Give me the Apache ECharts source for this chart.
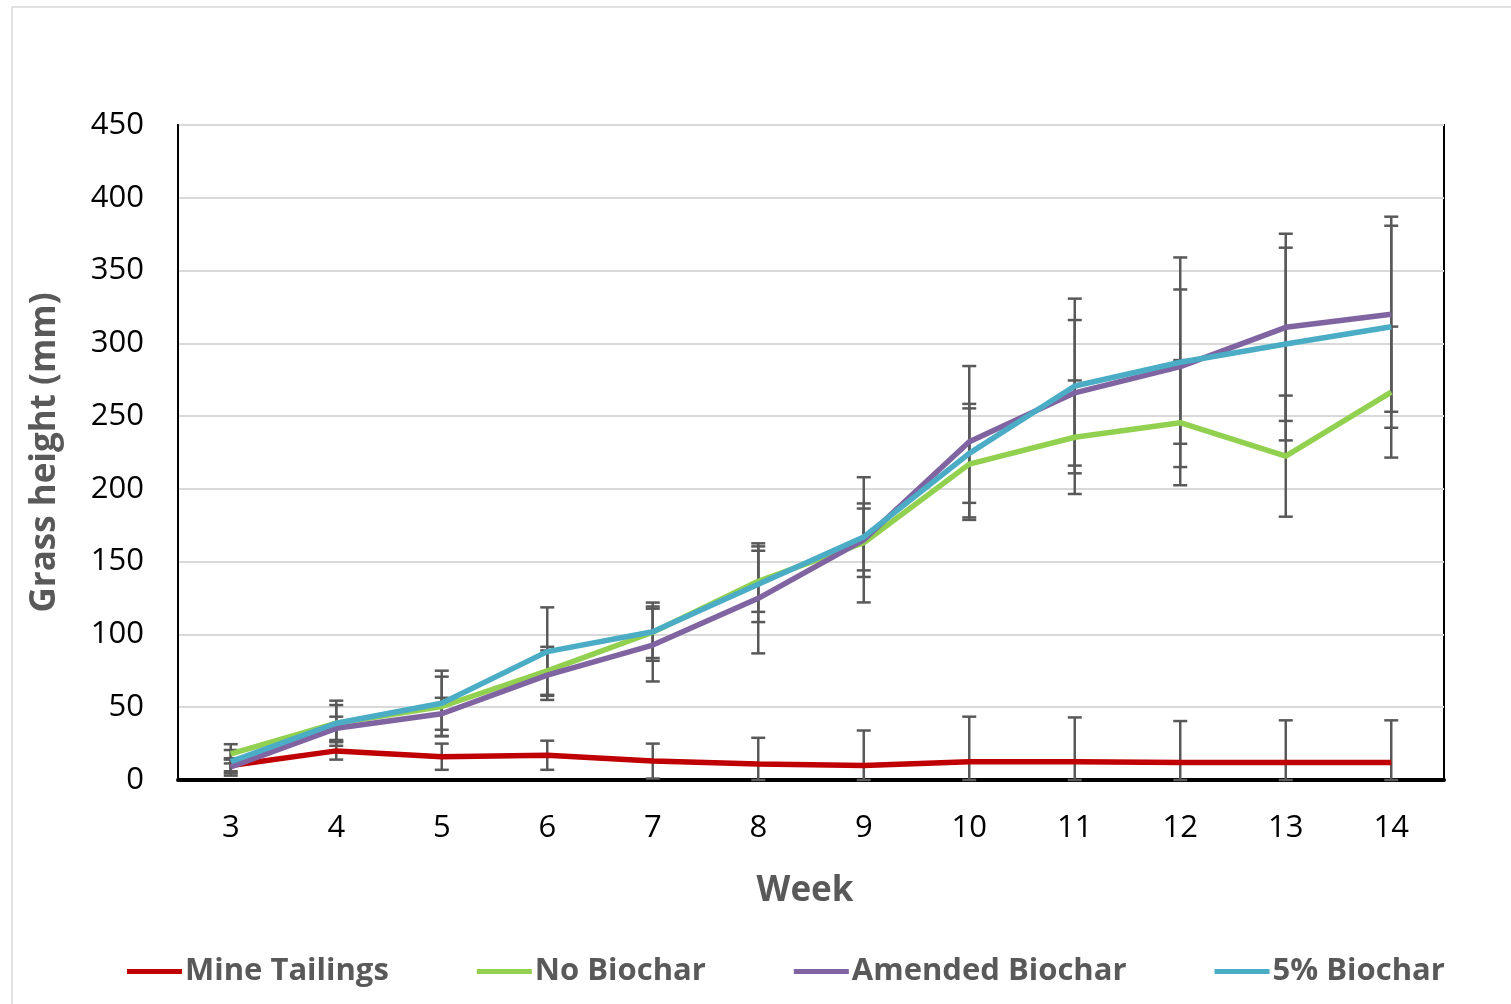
<!DOCTYPE html>
<html>
<head>
<meta charset="utf-8">
<script src="https://cdn.jsdelivr.net/npm/echarts@6/dist/echarts.min.js"></script>
<style>
  html, body { margin: 0; padding: 0; background: #fff; }
  #main { width: 1511px; height: 1004px; }
</style>
</head>
<body>
<div id="main"></div>
<script>
// weeks on the x axis
var weeks = ['3', '4', '5', '6', '7', '8', '9', '10', '11', '12', '13', '14'];

// mean grass height (mm) per treatment
var mineTailings = [10, 20, 16, 17, 13, 11, 10, 12.5, 12.5, 12, 12, 12];
var noBiochar = [18, 39, 50.5, 75, 101.5, 136.5, 163, 217, 235.5, 245.5, 222.5, 266.5];
var amendedBiochar = [9, 35.5, 45.5, 72, 92.7, 124.8, 165, 232.4, 266, 284, 311, 320];
var biochar5 = [12.6, 39, 52.7, 88.2, 101.9, 134.5, 167, 224.4, 270.7, 287, 299.5, 311.4];

// error bar half-widths (mm)
var mineTailingsErr = [4, 6, 9, 10, 12, 18, 24, 31, 30.5, 28.5, 29, 29];
var noBiocharErr = [6.6, 15.5, 20.5, 16.5, 17.7, 21, 23.5, 38.3, 39, 43, 41.6, 45];
var amendedBiocharErr = [6, 8, 11, 17, 25, 37.8, 43, 52, 50, 53, 64.3, 67];
var biochar5Err = [8, 12.5, 22.4, 30.4, 20, 26, 23, 34, 60, 72, 66.2, 69.4];

var yTicks = { min: 0, max: 450, interval: 50 };

var FONT = '"Open Sans", "Liberation Sans", sans-serif';
var GREY_TEXT = '#595959';

function errData(vals, errs) {
    return vals.map(function (v, i) {
        return [i, Math.max(0, v - errs[i]), v + errs[i]];
    });
}

function renderErr(params, api) {
    var x = api.value(0);
    var lo = api.coord([x, api.value(1)]);
    var hi = api.coord([x, api.value(2)]);
    var w = 7;
    var st = { stroke: '#595959', lineWidth: 2.5 };
    return {
        type: 'group',
        children: [
            { type: 'line', shape: { x1: lo[0], y1: lo[1], x2: hi[0], y2: hi[1] }, style: st },
            { type: 'line', shape: { x1: hi[0] - w, y1: hi[1], x2: hi[0] + w, y2: hi[1] }, style: st },
            { type: 'line', shape: { x1: lo[0] - w, y1: lo[1], x2: lo[0] + w, y2: lo[1] }, style: st }
        ]
    };
}

function lineSeries(name, data, color) {
    return {
        name: name,
        type: 'line',
        data: data,
        showSymbol: false,
        symbol: 'none',
        z: 5,
        lineStyle: { color: color, width: 5.5 },
        itemStyle: { color: color }
    };
}

function errSeries(name, vals, errs) {
    return {
        name: name + ' err',
        type: 'custom',
        renderItem: renderErr,
        data: errData(vals, errs),
        z: 3,
        silent: true
    };
}

var myChart = echarts.init(document.getElementById('main'));

myChart.setOption({
    animation: false,
    backgroundColor: '#fff',
    graphic: [{
        type: 'rect',
        shape: { x: 12, y: 7, width: 1520, height: 1020 },
        style: { fill: 'none', stroke: '#d9d9d9', lineWidth: 1.5 },
        z: 0
    }],
    grid: {
        left: 178,
        right: 67,
        top: 125,
        bottom: 224,
        show: true,
        borderColor: '#000',
        borderWidth: 2
    },
    legend: {
        data: ['Mine Tailings', 'No Biochar', 'Amended Biochar', '5% Biochar'],
        left: 122,
        top: 951,
        icon: 'rect',
        itemWidth: 55,
        itemHeight: 5,
        itemGap: 88,
        textStyle: {
            fontFamily: FONT,
            fontSize: 31,
            fontWeight: 'bold',
            color: GREY_TEXT,
            padding: [0, 0, 0, -2]
        }
    },
    xAxis: {
        type: 'category',
        data: weeks,
        boundaryGap: true,
        name: 'Week',
        nameLocation: 'middle',
        nameGap: 94,
        nameTextStyle: {
            fontFamily: FONT, fontSize: 35, fontWeight: 'bold', color: GREY_TEXT,
            padding: [0, 12, 0, 0]
        },
        axisLine: { lineStyle: { color: '#000', width: 4 } },
        axisTick: { show: false },
        axisLabel: { fontFamily: FONT, fontSize: 31, color: '#000', margin: 33 }
    },
    yAxis: {
        type: 'value',
        min: yTicks.min,
        max: yTicks.max,
        interval: yTicks.interval,
        name: 'Grass height (mm)',
        nameLocation: 'middle',
        nameGap: 115,
        nameTextStyle: { fontFamily: FONT, fontSize: 35, fontWeight: 'bold', color: GREY_TEXT },
        axisLine: { show: true, lineStyle: { color: '#000', width: 2 } },
        axisTick: { show: false },
        axisLabel: { fontFamily: FONT, fontSize: 31, color: '#000', margin: 34 },
        splitLine: { lineStyle: { color: '#d9d9d9', width: 2 } }
    },
    series: [
        errSeries('Mine Tailings', mineTailings, mineTailingsErr),
        errSeries('No Biochar', noBiochar, noBiocharErr),
        errSeries('Amended Biochar', amendedBiochar, amendedBiocharErr),
        errSeries('5% Biochar', biochar5, biochar5Err),
        lineSeries('Mine Tailings', mineTailings, '#C00000'),
        lineSeries('No Biochar', noBiochar, '#92D050'),
        lineSeries('Amended Biochar', amendedBiochar, '#8064A2'),
        lineSeries('5% Biochar', biochar5, '#4BACC6')
    ]
});
</script>
</body>
</html>
